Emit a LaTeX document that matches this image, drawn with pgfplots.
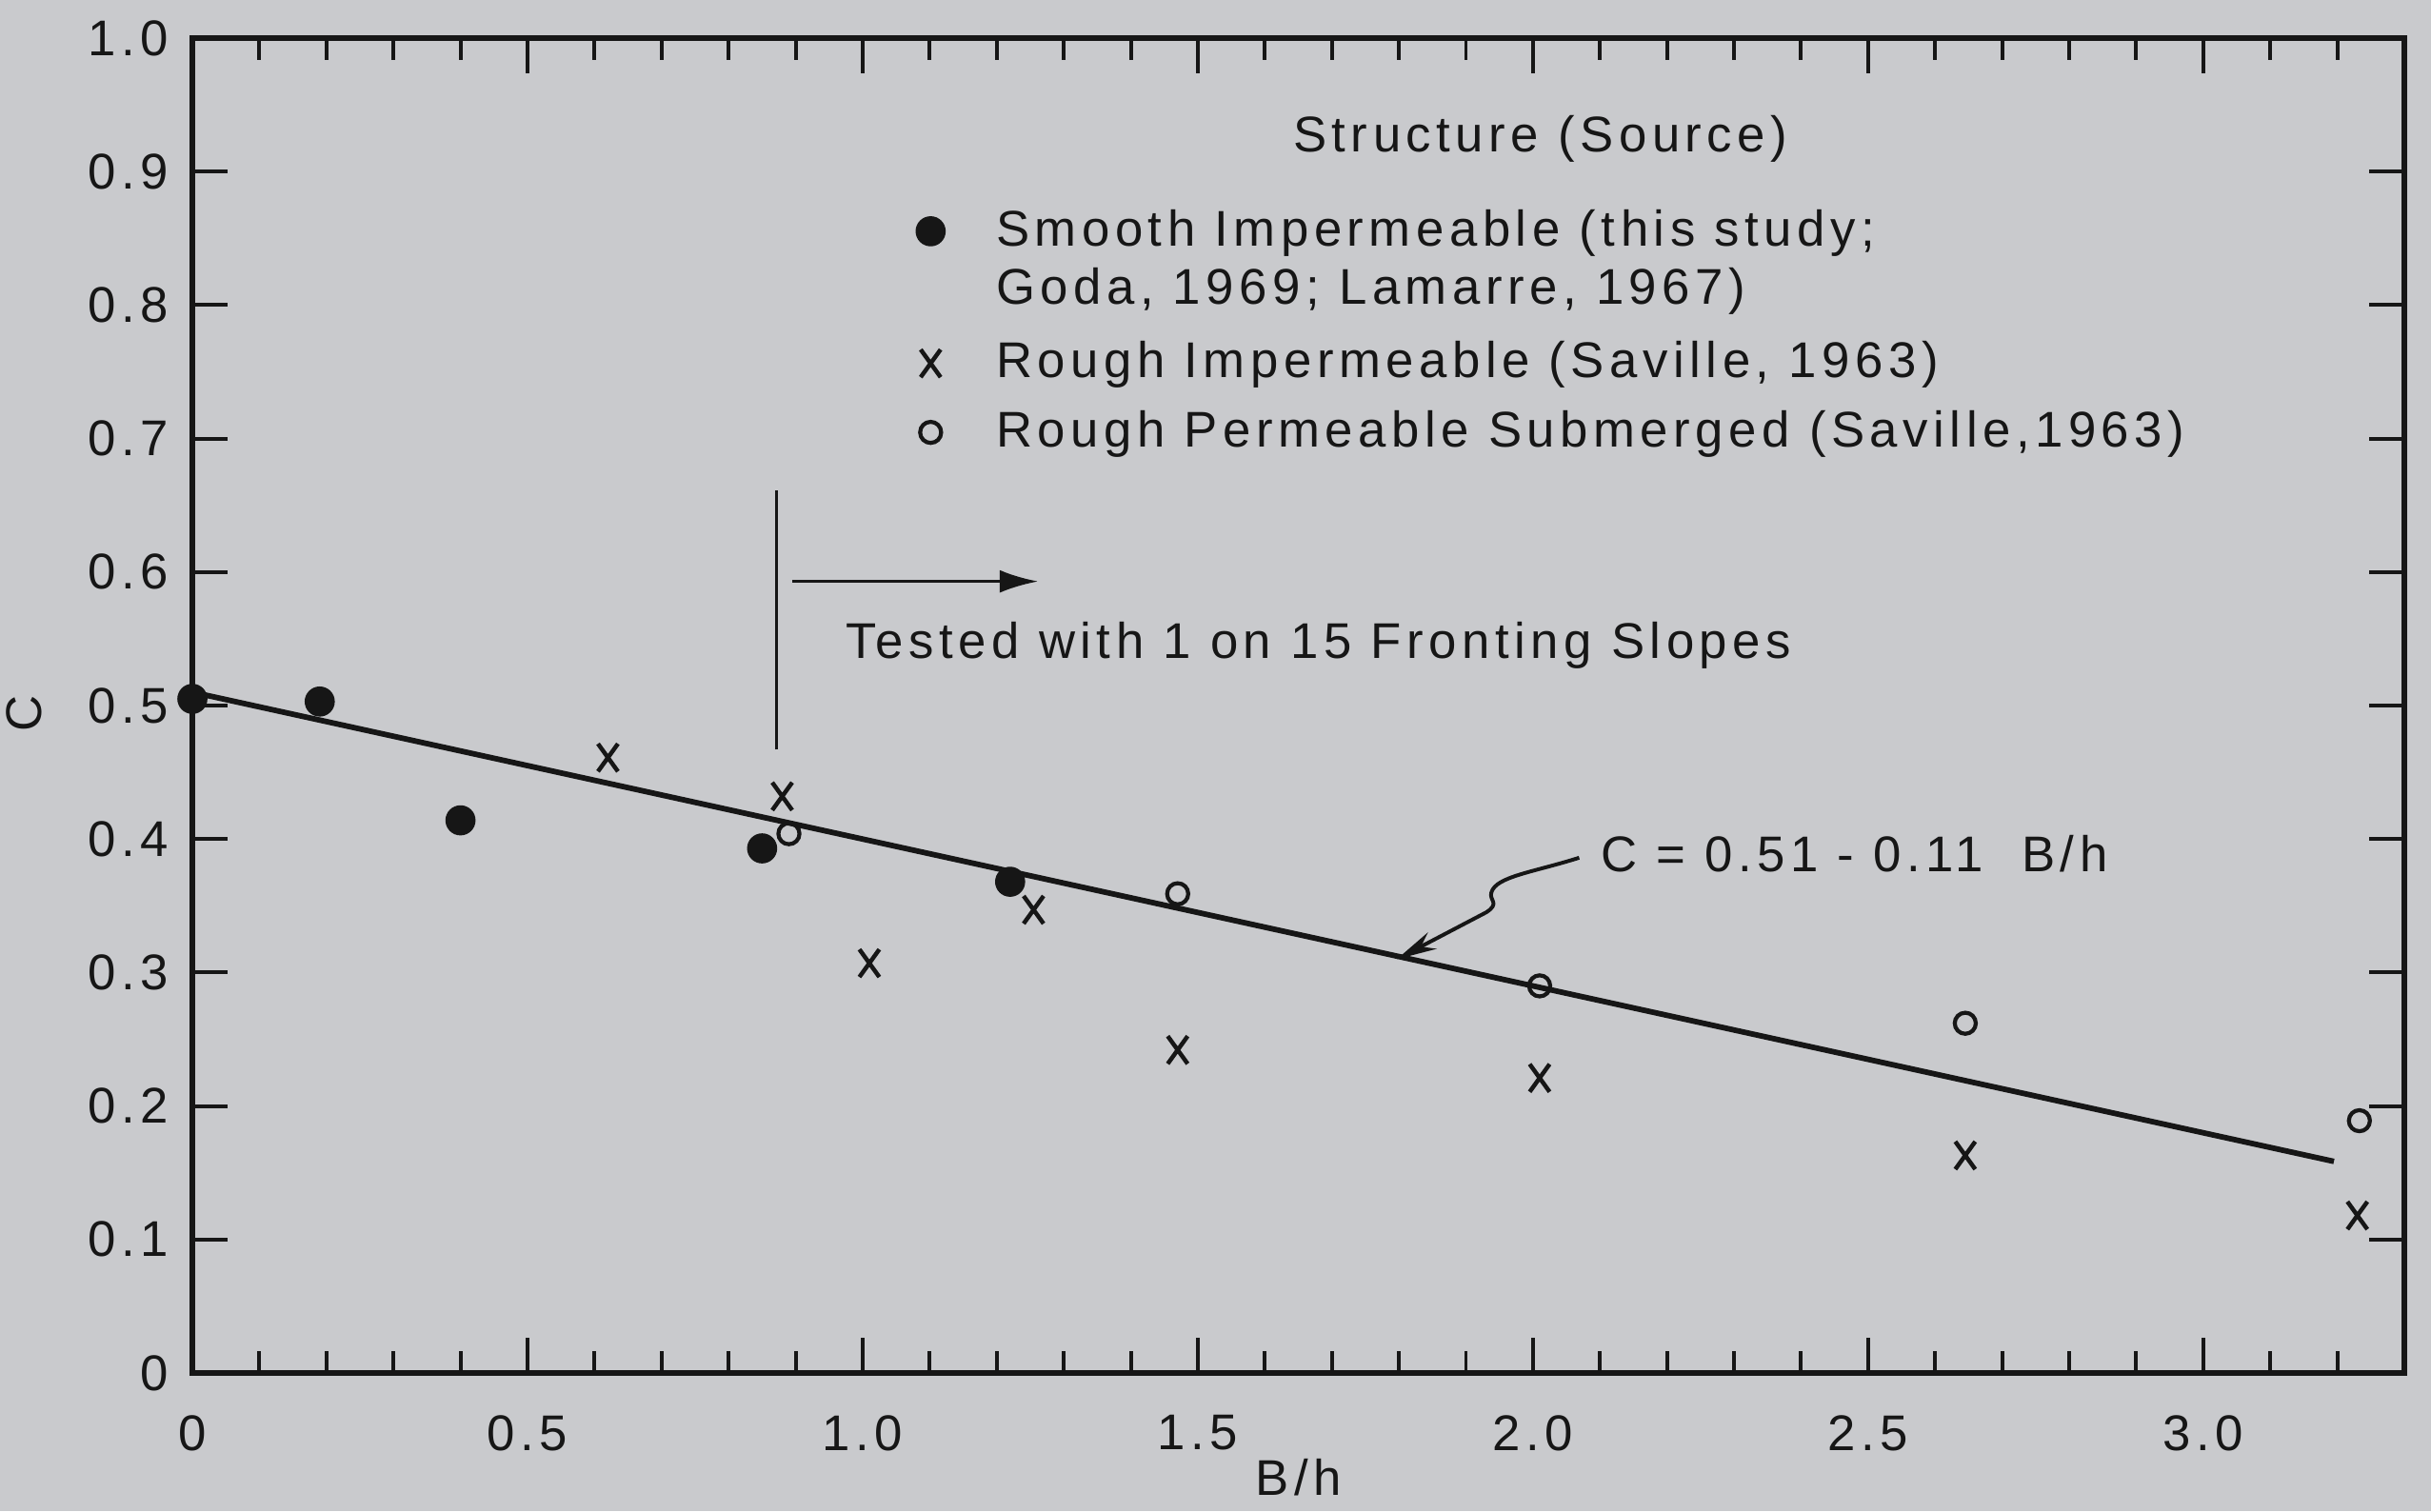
\documentclass[border=0pt]{standalone}
\usepackage{fontspec}
\setmainfont{Liberation Sans}[LetterSpace=10.5]
\usepackage{pgfplots}
\pgfplotsset{compat=1.18}
\usetikzlibrary{arrows.meta}
\definecolor{bg}{RGB}{201,202,205}
\definecolor{ink}{RGB}{22,22,22}
\begin{document}
\begin{tikzpicture}[font=\fontsize{10}{12}\selectfont]
\path[use as bounding box, fill=bg] (-1.347,-0.967) rectangle (15.674,9.614);
\begin{axis}[
  at={(0,0)}, anchor=south west,
  scale only axis, width=15.487cm, height=9.347cm,
  xmin=0, xmax=3.3, ymin=0, ymax=1.0,
  clip=false,
  /pgf/number format/assume math mode=true,
  xtick={0,0.5,1.0,1.5,2.0,2.5,3.0},
  xticklabels={0,0.5,1.0,1.5,2.0,2.5,3.0},
  minor xtick={0.1,0.2,0.3,0.4,0.6,0.7,0.8,0.9,1.1,1.2,1.3,1.4,1.6,1.7,1.8,1.9,2.1,2.2,2.3,2.4,2.6,2.7,2.8,2.9,3.1,3.2},
  ytick={0,0.1,0.2,0.3,0.4,0.5,0.6,0.7,0.8,0.9,1.0},
  yticklabels={0,0.1,0.2,0.3,0.4,0.5,0.6,0.7,0.8,0.9,1.0},
  tick align=inside, xtick pos=both, ytick pos=both,
  xticklabel pos=lower, yticklabel pos=left,
  major tick length=0.245cm, minor tick length=0.155cm,
  axis line style={line width=1.3pt, ink},
  every tick/.append style={line width=0.75pt, ink},
  ticklabel style={text=ink},
  xticklabel style={anchor=north, inner sep=0pt, yshift=-0.29cm},
  yticklabel style={anchor=east, inner sep=0pt, xshift=-0.16cm},
  xlabel={B/h},
  xlabel style={at={(axis description cs:0.5,-0.0634)}, anchor=north, inner sep=0pt, text=ink},
  ylabel={C},
  ylabel style={at={(axis description cs:-0.076,0.494)}, anchor=center, inner sep=0pt, text=ink},
  legend style={at={(axis cs:1.036,0.9433)}, anchor=north west, draw=none, fill=none,
    inner sep=0pt, row sep=0pt, column sep=0.36cm,
    nodes={inner sep=0pt, text=ink}},
  legend cell align=left,
]
% fitted line
\addplot[ink, line width=1.1pt, forget plot] coordinates {(0,0.51) (3.195,0.1585)};
% smooth impermeable
\addplot[only marks, mark=*, mark size=2.8pt, ink, forget plot] coordinates {
  (0,0.505) (0.19,0.503) (0.40,0.414) (0.85,0.393) (1.22,0.368)};
% rough impermeable
\addplot[only marks, mark=x, mark size=3.9pt, ink, mark options={xscale=0.72, line width=0.85pt}, forget plot] coordinates {
  (0.62,0.461) (0.88,0.432) (1.01,0.307) (1.255,0.347) (1.47,0.242) (2.01,0.221) (2.645,0.163) (3.23,0.118)};
% rough permeable submerged
\addplot[only marks, mark=o, mark size=2.1pt, ink, mark options={line width=0.8pt, fill=white!50!bg}, forget plot] coordinates {
  (0.89,0.404) (1.47,0.359) (2.01,0.290) (2.645,0.262) (3.233,0.189)};
% tested-with marker
\addplot[ink, line width=0.6pt, forget plot] coordinates {(0.871,0.467) (0.871,0.661)};
\addplot[ink, line width=0.7pt, -{Latex[length=0.27cm,width=0.16cm]}, forget plot] coordinates {(0.895,0.593) (1.262,0.593)};
\node[anchor=west, inner sep=0pt, text=ink] at (axis cs:0.973,0.545) {Tested with 1 on 15 Fronting Slopes};
% equation label and leader
\node[anchor=west, inner sep=0pt, text=ink] at (axis cs:2.10,0.389) {C = 0.51 - 0.11\ \ B/h};
\draw[ink, line width=0.75pt, -{Stealth[length=0.28cm,width=0.13cm]}]
  (axis cs:2.069,0.386) .. controls (axis cs:2.0,0.375) and (axis cs:1.945,0.372) ..
  (axis cs:1.938,0.360) .. controls (axis cs:1.934,0.354) and (axis cs:1.952,0.352) ..
  (axis cs:1.930,0.345) -- (axis cs:1.797,0.310);
% legend
\addlegendimage{empty legend}
\addlegendentry{\hspace*{2.08cm}\rule{0pt}{0.26cm}Structure (Source)}
\addlegendimage{only marks, mark=*, mark size=2.8pt, ink, mark options={yshift=-0.174cm}}
\addlegendentry{\rule{0pt}{0.605cm}Smooth Impermeable (this study;}
\addlegendimage{empty legend}
\addlegendentry{\rule{0pt}{0.355cm}Goda, 1969; Lamarre, 1967)}
\addlegendimage{only marks, mark=x, mark size=3.9pt, ink, mark options={xscale=0.72, line width=0.85pt, yshift=-0.104cm}}
\addlegendentry{\rule{0pt}{0.464cm}Rough Impermeable (Saville, 1963)}
\addlegendimage{only marks, mark=o, mark size=2.1pt, ink, mark options={line width=0.8pt, yshift=-0.087cm}}
\addlegendentry{\rule{0pt}{0.431cm}Rough Permeable Submerged (Saville,1963)}
\end{axis}
\end{tikzpicture}
\end{document}
